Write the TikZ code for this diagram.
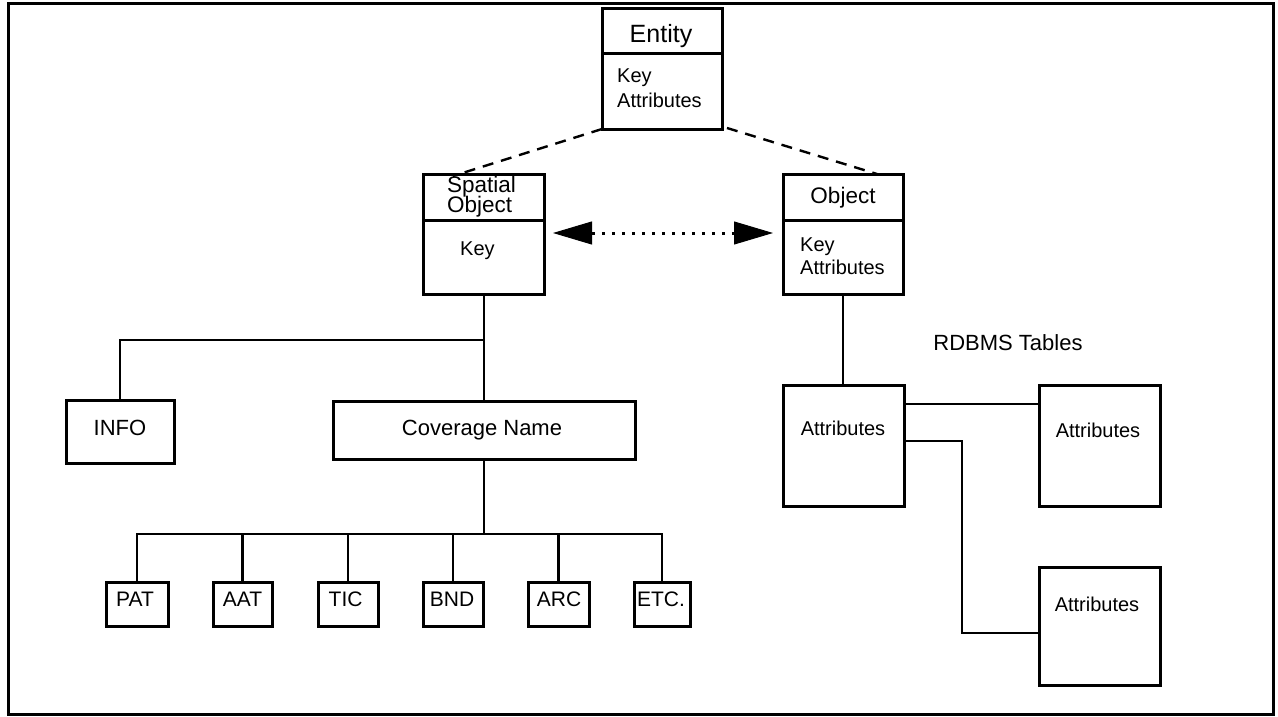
\documentclass[tikz,border=0pt]{standalone}
\usepackage{fontspec}
\setmainfont{Liberation Sans}
\usetikzlibrary{arrows.meta,calc}

\begin{document}
\begin{tikzpicture}[x=1pt,y=-1pt,
  box/.style={draw,line width=3pt,rectangle,inner sep=0pt,outer sep=0pt},
  wire/.style={line width=2.7pt},
  divider/.style={line width=3pt},
  dashwire/.style={line width=2.4pt,dash pattern=on 11pt off 8pt},
  dotwire/.style={line width=3pt,dash pattern=on 3pt off 7pt,
    {Triangle[length=39pt,width=23pt,line width=1pt]}-{Triangle[length=39pt,width=23pt,line width=1pt]}},
  txt/.style={inner sep=0pt,anchor=base},
  ltxt/.style={inner sep=0pt,anchor=base west},
  fbig/.style={font=\fontsize{25}{28}\selectfont},
  fhead/.style={font=\fontsize{22.5}{25}\selectfont},
  fbody/.style={font=\fontsize{20}{23}\selectfont},
  flab/.style={font=\fontsize{22}{25}\selectfont},
  fsmall/.style={font=\fontsize{21}{24}\selectfont}]

\useasboundingbox (0,0) rectangle (1278,717);
% outer frame
\draw[line width=3pt] (8,4) rectangle (1273,714);

% class boxes
\node[box,minimum width=120pt,minimum height=120pt] (entity) at (662,69) {};
\node[box,minimum width=121pt,minimum height=120pt] (spatial) at (483.5,234) {};
\node[box,minimum width=120pt,minimum height=120pt] (object) at (843,234) {};
\draw[divider] ($(entity.north west)+(0,45)$) -- ($(entity.north east)+(0,45)$);
\draw[divider] ($(spatial.north west)+(0,46)$) -- ($(spatial.north east)+(0,46)$);
\draw[divider] ($(object.north west)+(0,46)$) -- ($(object.north east)+(0,46)$);

\node[txt,fbig] (entT) at (661,43) {Entity};
\node[ltxt,fbody] (entK) at (617,83) {Key};
\node[ltxt,fbody] (entA) at (617,107) {Attributes};
\node[ltxt,fhead] (spT1) at (447,192) {Spatial};
\node[ltxt,fhead] (spT2) at (447,212) {Object};
\node[ltxt,fbody] (spK) at (460,255) {Key};
\node[txt,fhead] (obT) at (843,203) {Object};
\node[ltxt,fbody] (obK) at (800,251) {Key};
\node[ltxt,fbody] (obA) at (800,274) {Attributes};

% generalisation and association
\draw[dashwire] (entity.south west) -- ($(spatial.north west)+(30,2)$);
\draw[dashwire] ($(entity.south east)+(5,-1)$) -- ($(object.north east)+(-26,0)$);
\draw[dotwire] ($(spatial.east)+(9,-1)$) -- ($(object.west)+(-10,-1)$);

% coverage tree
\node[box,minimum width=108pt,minimum height=63pt] (info) at (120,431.5) {};
\node[box,minimum width=302pt,minimum height=58pt] (coverage) at (484,430) {};
\node[txt,flab] (infoT) at (120,435) {INFO};
\node[txt,flab] (covT) at (482,435) {Coverage Name};

\coordinate (jn) at (483.5,340);
\draw[wire] (spatial.south) -- (coverage.south |- spatial.south) -- (coverage.north);
\draw[wire] (info.north) |- (jn);

\node[box,minimum width=62pt,minimum height=44pt] (pat) at (137,604) {};
\node[box,minimum width=59pt,minimum height=44pt] (aat) at (242.5,604) {};
\node[box,minimum width=60pt,minimum height=44pt] (tic) at (348,604) {};
\node[box,minimum width=60pt,minimum height=44pt] (bnd) at (453,604) {};
\node[box,minimum width=61pt,minimum height=44pt] (arc) at (558.5,604) {};
\node[box,minimum width=56pt,minimum height=44pt] (etc) at (662,604) {};
\node[txt,fsmall] (patT) at (135,606) {PAT};
\node[txt,fsmall] (aatT) at (242.5,606) {AAT};
\node[txt,fsmall] (ticT) at (345.6,606) {TIC};
\node[txt,fsmall] (bndT) at (452,606) {BND};
\node[txt,fsmall] (arcT) at (559,606) {ARC};
\node[txt,fsmall] (etcT) at (661,606) {ETC.};

\coordinate (bus) at (484,534);
\draw[wire] (pat.north) -- (pat.north |- bus) -- (etc.north |- bus) -- (etc.north);
\draw[wire] (coverage.south) -- (coverage.south |- bus);
\foreach \b in {aat,tic,bnd,arc}
  \draw[wire] (\b.north) -- (\b.north |- bus);

% RDBMS tables
\node[txt,flab] (rdT) at (1008,350) {RDBMS Tables};
\node[box,minimum width=121pt,minimum height=121pt] (a1) at (843.5,445.5) {};
\node[box,minimum width=121pt,minimum height=121pt] (a2) at (1099.5,445.5) {};
\node[box,minimum width=121pt,minimum height=118pt] (a3) at (1099.5,626) {};
\node[txt,fbody] (a1T) at (843,435) {Attributes};
\node[txt,fbody] (a2T) at (1098,437) {Attributes};
\node[txt,fbody] (a3T) at (1097,611) {Attributes};

\draw[wire] (object.south) -- (object.south |- a1.north);
\draw[wire] ($(a1.east)+(0,-41.5)$) -- ($(a2.west)+(0,-41.5)$);
\draw[wire] ($(a1.east)+(0,-4.5)$) -| ($(a3.west)+(-77,7)$) -- ($(a3.west)+(0,7)$);
\end{tikzpicture}
\end{document}
